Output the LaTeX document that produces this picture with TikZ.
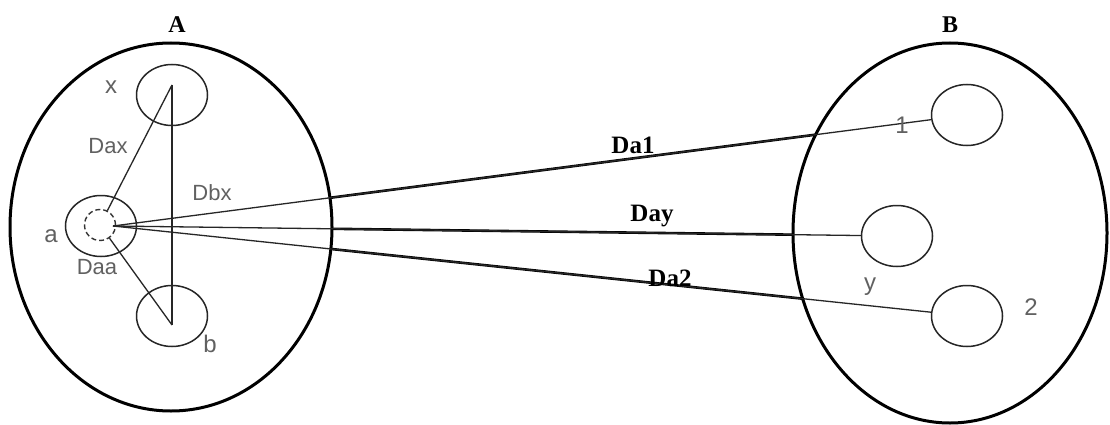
\documentclass[tikz,border=0pt]{standalone}
\usepackage{fontspec}
\setmainfont{Liberation Sans}
\newfontfamily\serifb{Liberation Serif}
\usetikzlibrary{shapes.geometric}
\pgfdeclarelayer{connbg}
\pgfdeclarelayer{setbg}
\pgfsetlayers{connbg,setbg,main}
\begin{document}
\begin{tikzpicture}[x=1pt,y=-1pt,
  bigset/.style={ellipse, draw=black, line width=3pt, fill=white, inner sep=0pt},
  elem/.style={ellipse, draw=black!85, line width=1.5pt, inner sep=0pt, minimum width=71pt, minimum height=61pt},
  thinln/.style={draw=black!85, line width=1.3pt},
  thickln/.style={draw=black, line width=2.6pt},
  glabel/.style={text=black!62, font=\fontsize{22pt}{24pt}\selectfont, inner sep=0pt},
  slabel/.style={text=black!62, font=\fontsize{24pt}{26pt}\selectfont, inner sep=0pt},
  blabel/.style={text=black, font=\serifb\bfseries\fontsize{25pt}{27pt}\selectfont, inner sep=0pt},
  setlabel/.style={text=black, font=\serifb\bfseries\fontsize{24pt}{26pt}\selectfont, inner sep=0pt},
]
\useasboundingbox (0,0) rectangle (1110,425);

% elements of set A
\node[elem] (ex) at (172,95) {};
\node[elem] (ea) at (101,226) {};
\node[elem] (eb) at (172,316) {};
\node[circle, draw=black!80, dash pattern=on 5pt off 3pt, line width=1.4pt, inner sep=0pt, minimum width=31pt] (dc) at (100,225) {};
\coordinate (p) at (113,226);
\coordinate (xt) at (172,85);
\coordinate (bt) at (172,325);

% elements of set B
\node[elem] (n1) at (967,115) {};
\node[elem] (ny) at (897,236) {};
\node[elem] (n2) at (967,316) {};

% big sets
\begin{pgfonlayer}{setbg}
\node[bigset, minimum width=322pt, minimum height=368pt] (A) at (171,227) {};
\node[bigset, minimum width=314pt, minimum height=380pt] (B) at (950,233) {};
\end{pgfonlayer}

% thick parts of the connectors (visible between the sets)
\begin{pgfonlayer}{connbg}
\draw[thickln] (p) -- (n1);
\draw[thickln] (p) -- (ny);
\draw[thickln] (p) -- (n2);
\end{pgfonlayer}

% thin connectors
\draw[thinln] (p) -- (n1);
\draw[thinln] (p) -- (ny);
\draw[thinln] (p) -- (n2);
\draw[thinln] (xt) -- (bt);
\draw[thinln] (xt) -- (dc);
\draw[thinln] (bt) -- (dc);

% labels
\node[setlabel] (labA) at (177,25) {A};
\node[setlabel] (labB) at (950,25) {B};
\node[slabel] (lx) at (111,87) {x};
\node[slabel] (la) at (51,236) {a};
\node[slabel] (lb) at (210,344) {b};
\node[glabel] (ldax) at (108,146) {Dax};
\node[glabel] (ldbx) at (212,193) {Dbx};
\node[glabel] (ldaa) at (97,267) {Daa};
\node[slabel] (l1) at (902,125) {1};
\node[slabel] (ly) at (870,287) {y};
\node[slabel] (l2) at (1031,307) {2};
\node[blabel] (lda1) at (633,145) {Da1};
\node[blabel] (lday) at (652,216) {Day};
\node[blabel] (lda2) at (670,278) {Da2};
\end{tikzpicture}
\end{document}
